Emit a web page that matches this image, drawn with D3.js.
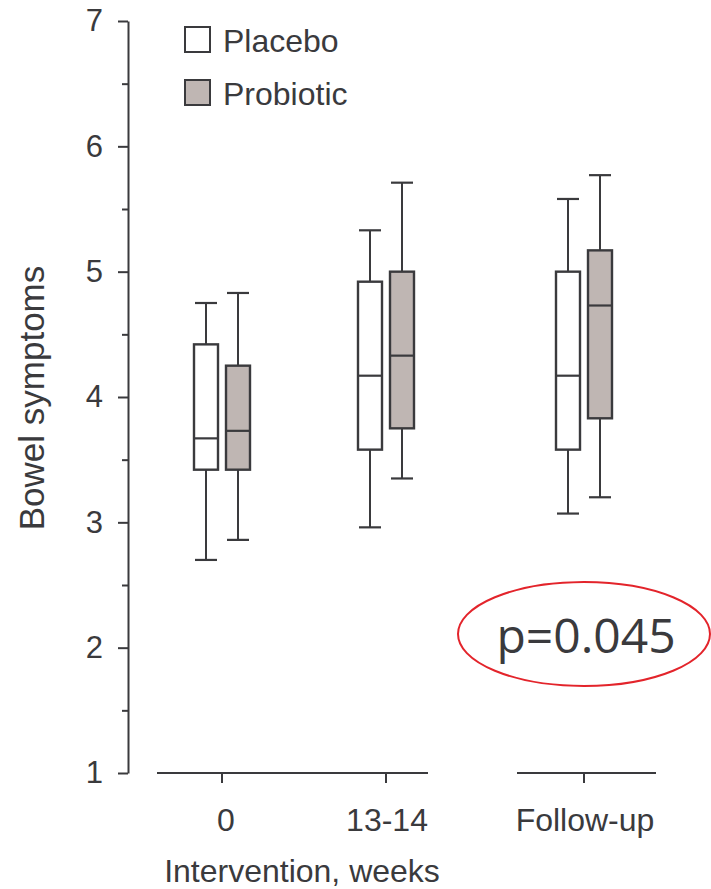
<!DOCTYPE html>
<html>
<head>
<meta charset="utf-8">
<script src="https://cdn.jsdelivr.net/npm/d3@7.9.0/dist/d3.min.js"></script>
<style>
  body { margin: 0; background: #fff; }
  svg text { font-family: "Liberation Sans", Arial, sans-serif; fill: #3a3a3d; }
</style>
</head>
<body>
<div id="chart"></div>
<script>
// Box plot data (bowel symptom score)
const categories = ["0", "13-14", "Follow-up"];
const groups = ["Placebo", "Probiotic"];

// per category: [whisker low, Q1, median, Q3, whisker high]
const placeboStats = [
  [2.70, 3.42, 3.67, 4.42, 4.75],
  [2.96, 3.58, 4.17, 4.92, 5.33],
  [3.07, 3.58, 4.17, 5.00, 5.58]
];
const probioticStats = [
  [2.86, 3.42, 3.73, 4.25, 4.83],
  [3.35, 3.75, 4.33, 5.00, 5.71],
  [3.20, 3.83, 4.73, 5.17, 5.77]
];

const yTicks = [1, 2, 3, 4, 5, 6, 7];
const yMinorTicks = [1.5, 2.5, 3.5, 4.5, 5.5, 6.5];
const pLabel = "p=0.045";

const W = 711, H = 889;
const ink = "#3a3a3d";
const fills = { Placebo: "#ffffff", Probiotic: "#bfb6b3" };

const svg = d3.select("#chart").append("svg")
  .attr("width", W)
  .attr("height", H);

const axisX = 128;
const y = d3.scaleLinear().domain([1, 7]).range([773, 21]);

// category centres: the follow-up sits after an axis break
const x = d3.scaleOrdinal().domain(categories).range([222, 386, 584]);
const offset = d3.scaleOrdinal().domain(groups).range([-16, 16]);
const boxW = 24;

// y axis
const yAxis = svg.append("g")
  .attr("transform", `translate(${axisX},0)`)
  .call(d3.axisLeft(y).tickValues(yTicks).tickSize(10).tickSizeOuter(0).tickPadding(15).tickFormat(d3.format("d")));
yAxis.select(".domain").attr("stroke", ink).attr("stroke-width", 2);
yAxis.selectAll(".tick line").attr("stroke", ink).attr("stroke-width", 2);
yAxis.selectAll(".tick text").attr("font-size", 31).style("fill", ink)
  .attr("font-family", "Liberation Sans, Arial, sans-serif");

const yMinor = svg.append("g")
  .attr("transform", `translate(${axisX},0)`)
  .call(d3.axisLeft(y).tickValues(yMinorTicks).tickSize(6).tickFormat(""));
yMinor.select(".domain").remove();
yMinor.selectAll(".tick line").attr("stroke", ink).attr("stroke-width", 2);

// broken x axis
const xSegments = [
  { from: x("0") - 65, to: x("13-14") + 42 },
  { from: x("Follow-up") - 67, to: x("Follow-up") + 72 }
];
svg.selectAll(".xseg").data(xSegments).join("line")
  .attr("class", "xseg")
  .attr("x1", d => d.from).attr("x2", d => d.to)
  .attr("y1", y(1)).attr("y2", y(1))
  .attr("stroke", ink).attr("stroke-width", 2);

svg.selectAll(".xtick").data(categories).join("line")
  .attr("class", "xtick")
  .attr("x1", d => x(d)).attr("x2", d => x(d))
  .attr("y1", y(1)).attr("y2", y(1) + 10)
  .attr("stroke", ink).attr("stroke-width", 2);

svg.selectAll(".xlabel").data(categories).join("text")
  .attr("class", "xlabel")
  .attr("x", d => x(d) + (d === "0" ? 4 : 1))
  .attr("y", 831)
  .attr("text-anchor", "middle")
  .attr("font-size", 32)
  .text(d => d);

// axis titles
svg.append("text")
  .attr("x", 302).attr("y", 882)
  .attr("text-anchor", "middle")
  .attr("font-size", 32)
  .text("Intervention, weeks");

svg.append("text")
  .attr("transform", `translate(44,398) rotate(-90)`)
  .attr("text-anchor", "middle")
  .attr("font-size", 35)
  .text("Bowel symptoms");

// boxes
const boxes = [];
categories.forEach((c, i) => {
  boxes.push({ cat: c, group: "Placebo", s: placeboStats[i] });
  boxes.push({ cat: c, group: "Probiotic", s: probioticStats[i] });
});

const bx = svg.selectAll(".box").data(boxes).join("g")
  .attr("class", "box")
  .attr("transform", d => `translate(${x(d.cat) + offset(d.group)},0)`);

// whiskers
bx.append("line")
  .attr("x1", 0).attr("x2", 0)
  .attr("y1", d => y(d.s[0])).attr("y2", d => y(d.s[4]))
  .attr("stroke", ink).attr("stroke-width", 2);
bx.selectAll(".cap").data(d => [d.s[0], d.s[4]]).join("line")
  .attr("class", "cap")
  .attr("x1", -boxW / 2 + 1).attr("x2", boxW / 2 - 1)
  .attr("y1", d => y(d)).attr("y2", d => y(d))
  .attr("stroke", ink).attr("stroke-width", 2.2);

bx.append("rect")
  .attr("x", -boxW / 2)
  .attr("width", boxW)
  .attr("y", d => y(d.s[3]))
  .attr("height", d => y(d.s[1]) - y(d.s[3]))
  .attr("fill", d => fills[d.group])
  .attr("stroke", ink).attr("stroke-width", 2.4);

bx.append("line")
  .attr("x1", -boxW / 2).attr("x2", boxW / 2)
  .attr("y1", d => y(d.s[2])).attr("y2", d => y(d.s[2]))
  .attr("stroke", ink).attr("stroke-width", 2.2);

// legend
const legend = svg.append("g").attr("transform", "translate(185,27)");
const li = legend.selectAll("g").data(groups).join("g")
  .attr("transform", (d, i) => `translate(0,${i * 53})`);
li.append("rect")
  .attr("width", 25).attr("height", 25)
  .attr("fill", d => fills[d])
  .attr("stroke", ink).attr("stroke-width", 2);
li.append("text")
  .attr("x", 38).attr("y", 25)
  .attr("font-size", 32)
  .text(d => d);

// p value annotation
svg.append("ellipse")
  .attr("cx", 584).attr("cy", 634)
  .attr("rx", 126).attr("ry", 52)
  .attr("fill", "none")
  .attr("stroke", "#e3242b").attr("stroke-width", 2);
svg.append("text")
  .attr("x", 586).attr("y", 653)
  .attr("text-anchor", "middle")
  .attr("font-size", 48)
  .style("font-family", "'Open Sans', sans-serif")
  .text(pLabel);
</script>
</body>
</html>
